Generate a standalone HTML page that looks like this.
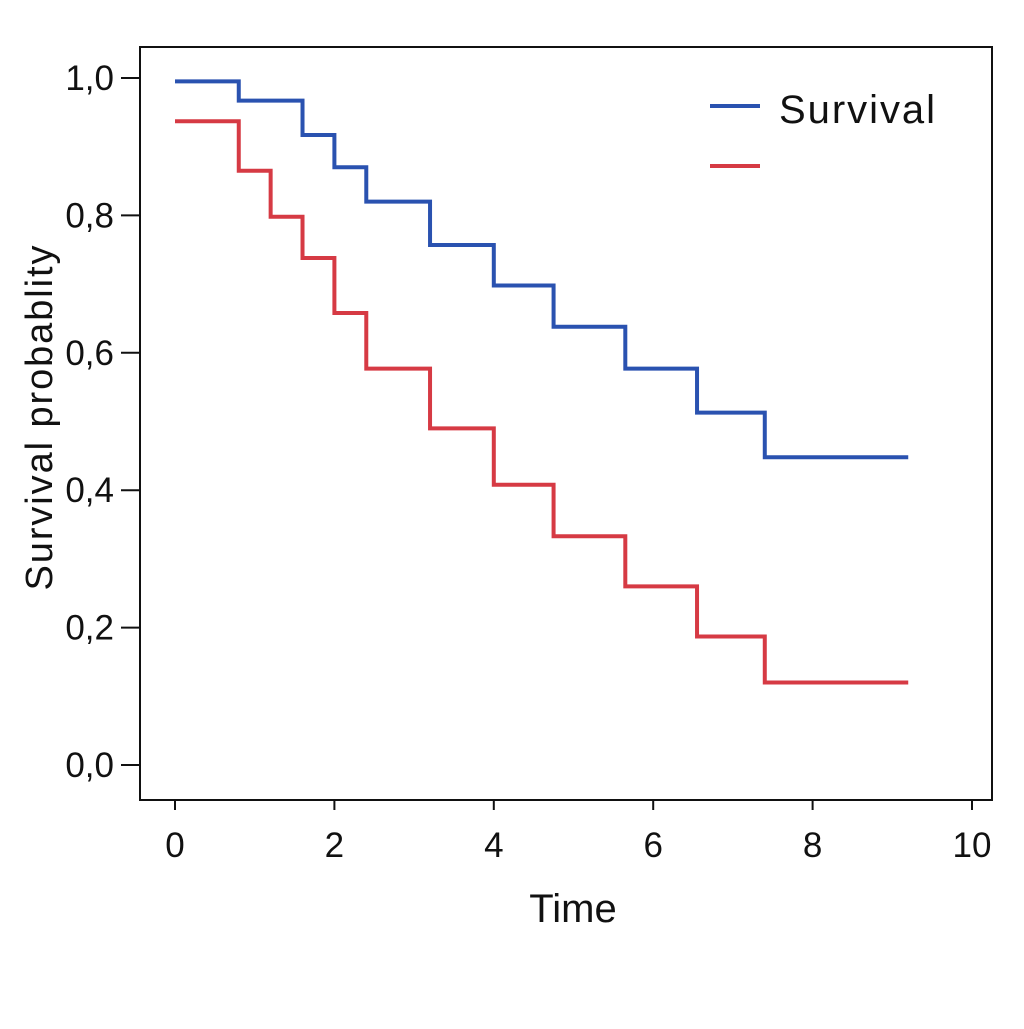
<!DOCTYPE html>
<html><head><meta charset="utf-8"><style>
body{margin:0;background:#fff;}
svg text{font-family:"Liberation Sans",sans-serif;fill:#111;}
</style></head><body>
<svg width="1024" height="1024" viewBox="0 0 1024 1024">
<rect x="140" y="47" width="852" height="753" fill="none" stroke="#111" stroke-width="2"/>
<g id="axes"></g>
<g id="series"></g>
<text x="573" y="922" font-size="40" text-anchor="middle">Time</text>
<text transform="translate(52,418) rotate(-90)" font-size="38" text-anchor="middle" textLength="345">Survival probablity</text>
<line x1="710" y1="106" x2="760" y2="106" stroke="#2a52b0" stroke-width="4"/>
<text x="779" y="123" font-size="40" textLength="156">Survival</text>
<line x1="710" y1="166" x2="760" y2="166" stroke="#d63a44" stroke-width="4"/>
</svg>
<script>
const xTicks=[0,2,4,6,8,10];
const yTicks=[0,0.2,0.4,0.6,0.8,1.0];
const yTickLabels=["0,0","0,2","0,4","0,6","0,8","1,0"];
const blueTimes=[0,0.8,1.6,2.0,2.4,3.2,4.0,4.75,5.65,6.55,7.4,9.2];
const blueSurv=[0.995,0.967,0.917,0.87,0.82,0.757,0.698,0.638,0.577,0.513,0.448];
const redTimes=[0,0.8,1.2,1.6,2.0,2.4,3.2,4.0,4.75,5.65,6.55,7.4,9.2];
const redSurv=[0.937,0.865,0.798,0.738,0.658,0.577,0.49,0.408,0.333,0.26,0.187,0.12];
const NS="http://www.w3.org/2000/svg";
const xs=v=>175+v*79.7;
const ys=v=>765-v*687;
function mk(tag,attrs,parent){const e=document.createElementNS(NS,tag);for(const k in attrs)e.setAttribute(k,attrs[k]);parent.appendChild(e);return e;}
const axes=document.getElementById('axes');
xTicks.forEach(t=>{
 const l=mk('line',{x1:xs(t),x2:xs(t),y1:800,y2:810,stroke:'#111','stroke-width':2},axes);
 
 
 const tx=mk('text',{x:xs(t),y:857,'font-size':35,'text-anchor':'middle'},axes);
 tx.textContent=t;
 
 
});
yTicks.forEach((t,i)=>{
 const l=mk('line',{x1:121,x2:140,y1:ys(t),y2:ys(t),stroke:'#111','stroke-width':2},axes);
 
 
 const tx=mk('text',{x:114,y:ys(t)+12,'font-size':35,'text-anchor':'end'},axes);
 tx.textContent=yTickLabels[i];
 
 
});
function step(times,surv,color,name){
 let d='M'+xs(times[0])+' '+ys(surv[0]);
 for(let i=0;i<surv.length;i++){
  d+=' H'+xs(times[i+1]);
  if(i+1<surv.length)d+=' V'+ys(surv[i+1]);
 }
 const p=mk('path',{d:d,fill:'none',stroke:color,'stroke-width':4},document.getElementById('series'));
 
 
}
step(blueTimes,blueSurv,'#2a52b0','survival-curve-blue');
step(redTimes,redSurv,'#d63a44','survival-curve-red');
</script>
</body></html>
